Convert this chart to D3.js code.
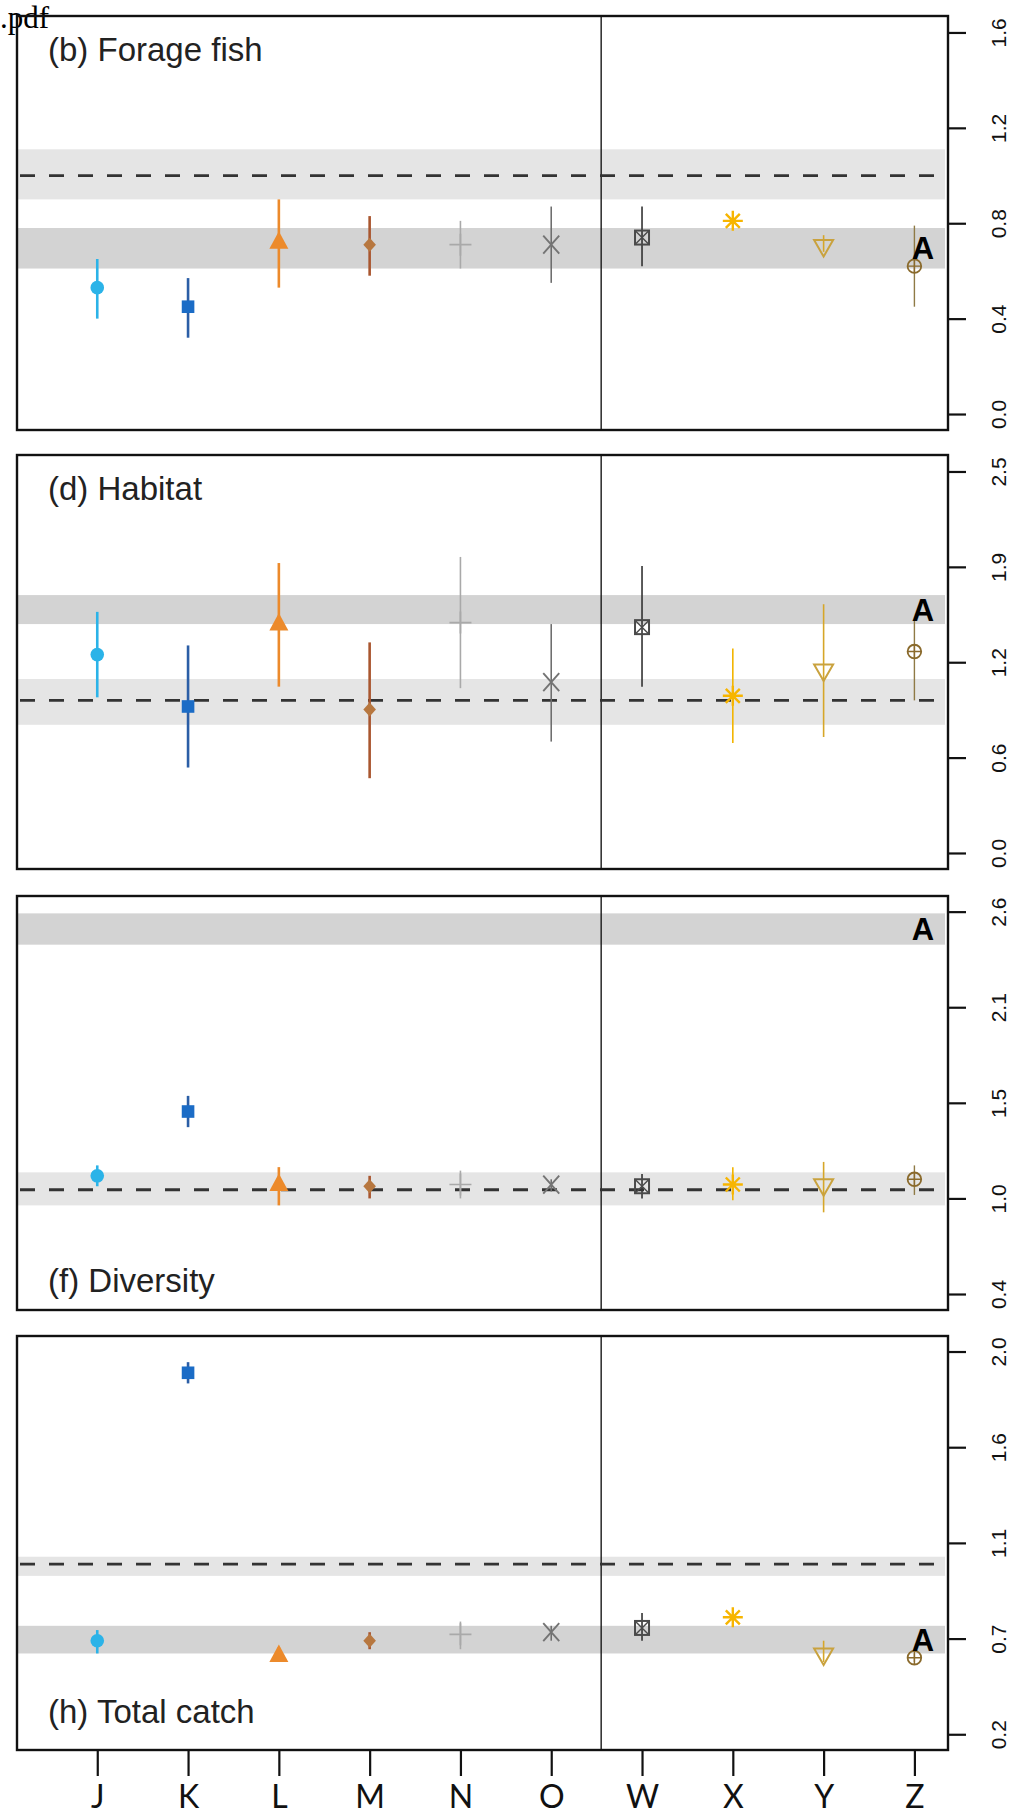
<!DOCTYPE html>
<html>
<head>
<meta charset="utf-8">
<script src="https://cdn.jsdelivr.net/npm/d3@7"></script>
<style>
  html, body { margin: 0; padding: 0; background: #fff; }
  svg { display: block; }
</style>
</head>
<body>
<svg id="chart" width="1013" height="1816"></svg>
<script>
// ---- data ---------------------------------------------------------------
const categories = ["J", "K", "L", "M", "N", "O", "W", "X", "Y", "Z"];

// (b) Forage fish
const forageMean = [0.53, 0.45, 0.72, 0.71, 0.71, 0.71, 0.74, 0.81, 0.70, 0.62];
const forageLow  = [0.40, 0.32, 0.53, 0.58, 0.61, 0.55, 0.62, 0.80, 0.68, 0.45];
const forageHigh = [0.65, 0.57, 0.90, 0.83, 0.81, 0.87, 0.87, 0.82, 0.75, 0.79];
const forageRefBand = [0.90, 1.11];
const forageBandA = [0.61, 0.78];
const forageDomain = [-0.067, 1.669];
const forageTicks = [0, 0.4, 0.8, 1.2, 1.6];
const forageTickLabels = ["0.0", "0.4", "0.8", "1.2", "1.6"];

// (d) Habitat
const habitatMean = [1.30, 0.96, 1.50, 0.94, 1.51, 1.12, 1.48, 1.03, 1.19, 1.32];
const habitatLow  = [1.02, 0.56, 1.09, 0.49, 1.08, 0.73, 1.09, 0.72, 0.76, 1.00];
const habitatHigh = [1.58, 1.36, 1.90, 1.38, 1.94, 1.50, 1.88, 1.34, 1.63, 1.52];
const habitatRefBand = [0.84, 1.14];
const habitatBandA = [1.50, 1.69];
const habitatDomain = [-0.105, 2.608];
const habitatTicks = [0, 0.625, 1.25, 1.875, 2.5];
const habitatTickLabels = ["0.0", "0.6", "1.2", "1.9", "2.5"];

// (f) Diversity
const diversityMean = [1.08, 1.45, 1.03, 1.02, 1.03, 1.03, 1.02, 1.03, 1.02, 1.06];
const diversityLow  = [1.02, 1.36, 0.91, 0.95, 0.95, 0.99, 0.95, 0.94, 0.87, 0.97];
const diversityHigh = [1.14, 1.54, 1.13, 1.08, 1.11, 1.06, 1.09, 1.13, 1.16, 1.14];
const diversityRefBand = [0.91, 1.10];
const diversityBandA = [2.41, 2.59];
const diversityDomain = [0.308, 2.690];
const diversityTicks = [0.4, 0.95, 1.5, 2.05, 2.6];
const diversityTickLabels = ["0.4", "1.0", "1.5", "2.1", "2.6"];

// (h) Total catch
const catchMean = [0.64, 1.90, 0.57, 0.64, 0.67, 0.68, 0.70, 0.75, 0.57, 0.56];
const catchLow  = [0.58, 1.85, 0.55, 0.60, 0.60, 0.64, 0.64, 0.74, 0.54, 0.54];
const catchHigh = [0.69, 1.95, 0.61, 0.68, 0.73, 0.71, 0.77, 0.76, 0.64, 0.58];
const catchRefBand = [0.945, 1.035];
const catchBandA = [0.58, 0.71];
const catchDomain = [0.126, 2.073];
const catchTicks = [0.2, 0.65, 1.1, 1.55, 2.0];
const catchTickLabels = ["0.2", "0.7", "1.1", "1.6", "2.0"];

const referenceValue = 1.0;
const groupSplit = 6.55;   // boundary between the J–O and W–Z groups

// ---- styling ------------------------------------------------------------
const markerShapes = ["circle", "square", "triangle", "diamond", "plus",
                      "cross", "boxcross", "asterisk", "triangleDown", "circlePlus"];
const markerColors = ["#2bb3e8", "#1b6cc6", "#ec8a2b", "#b7773f", "#a9a9a9",
                      "#747474", "#4a4a4a", "#f7b500", "#c9a23e", "#8a6a2c"];
const barColors    = ["#2bb3e8", "#2b5ea6", "#ec8a2b", "#a9562f", "#a9a9a9",
                      "#6e6e6e", "#333333", "#f2b400", "#d6a628", "#8f7a45"];
const barWidths    = [2.6, 2.6, 2.6, 2.6, 1.6, 1.6, 1.6, 1.6, 1.6, 1.4];

const panels = [
  { title: "(b) Forage fish", mean: forageMean, low: forageLow, high: forageHigh,
    refBand: forageRefBand, bandA: forageBandA, domain: forageDomain,
    ticks: forageTicks, tickLabels: forageTickLabels, top: 16, titleDy: 45 },
  { title: "(d) Habitat", mean: habitatMean, low: habitatLow, high: habitatHigh,
    refBand: habitatRefBand, bandA: habitatBandA, domain: habitatDomain,
    ticks: habitatTicks, tickLabels: habitatTickLabels, top: 455, titleDy: 45 },
  { title: "(f) Diversity", mean: diversityMean, low: diversityLow, high: diversityHigh,
    refBand: diversityRefBand, bandA: diversityBandA, domain: diversityDomain,
    ticks: diversityTicks, tickLabels: diversityTickLabels, top: 896, titleDy: 396 },
  { title: "(h) Total catch", mean: catchMean, low: catchLow, high: catchHigh,
    refBand: catchRefBand, bandA: catchBandA, domain: catchDomain,
    ticks: catchTicks, tickLabels: catchTickLabels, top: 1336, titleDy: 387 }
];

const plotLeft = 17, plotRight = 948, panelHeight = 414;
const svg = d3.select("#chart");

svg.append("text")
  .attr("x", 0).attr("y", 28)
  .attr("font-family", "Liberation Serif, Times New Roman, serif")
  .attr("font-size", 31).attr("fill", "#000")
  .text(".pdf");

const x = d3.scaleLinear().domain([0.116, 10.37]).range([plotLeft, plotRight]);
const sans = "Liberation Sans, Arial, Helvetica, sans-serif";

function drawMarker(g, shape, cx, cy, col) {
  const m = g.append("g").attr("transform", `translate(${cx},${cy})`);
  const stroke = (sel, w) => sel.attr("fill", "none").attr("stroke", col).attr("stroke-width", w);
  switch (shape) {
    case "circle":
      m.append("circle").attr("r", 6.8).attr("fill", col); break;
    case "square":
      m.append("rect").attr("x", -6.3).attr("y", -6.3).attr("width", 12.6).attr("height", 12.6).attr("fill", col); break;
    case "triangle":
      m.append("path").attr("d", "M0,-11L9.5,6.5L-9.5,6.5Z").attr("fill", col); break;
    case "diamond":
      m.append("path").attr("d", "M0,-7L6.3,0L0,7L-6.3,0Z").attr("fill", col); break;
    case "plus":
      stroke(m.append("path").attr("d", "M-11,0H11M0,-11V11"), 1.7); break;
    case "cross":
      stroke(m.append("path").attr("d", "M-8,-9L8,9M-8,9L8,-9"), 1.9); break;
    case "boxcross":
      stroke(m.append("rect").attr("x", -7).attr("y", -7).attr("width", 14).attr("height", 14), 2);
      stroke(m.append("path").attr("d", "M-7,-7L7,7M-7,7L7,-7"), 1.4); break;
    case "asterisk":
      stroke(m.append("path").attr("d", "M-10,0H10M0,-10V10M-7,-7L7,7M-7,7L7,-7"), 2.4); break;
    case "triangleDown":
      stroke(m.append("path").attr("d", "M-9.5,-7L9.5,-7L0,9.5Z"), 2); break;
    case "circlePlus":
      stroke(m.append("circle").attr("r", 6.8), 1.8);
      stroke(m.append("path").attr("d", "M-6.8,0H6.8M0,-6.8V6.8"), 1.4); break;
  }
}

panels.forEach((p, pi) => {
  const top = p.top, bottom = top + panelHeight;
  const y = d3.scaleLinear().domain(p.domain).range([bottom, top]);
  const g = svg.append("g").attr("class", "panel");

  const clipId = "clip" + pi;
  svg.append("clipPath").attr("id", clipId)
    .append("rect").attr("x", plotLeft).attr("y", top)
    .attr("width", plotRight - plotLeft).attr("height", panelHeight);
  const inner = g.append("g").attr("clip-path", `url(#${clipId})`);

  // reference and group bands
  inner.append("rect")
    .attr("x", plotLeft).attr("width", plotRight - plotLeft - 3)
    .attr("y", y(p.refBand[1])).attr("height", y(p.refBand[0]) - y(p.refBand[1]))
    .attr("fill", "#e5e5e5");
  inner.append("rect")
    .attr("x", plotLeft).attr("width", plotRight - plotLeft - 3)
    .attr("y", y(p.bandA[1])).attr("height", y(p.bandA[0]) - y(p.bandA[1]))
    .attr("fill", "#d3d3d3");

  // group divider
  inner.append("line")
    .attr("x1", x(groupSplit)).attr("x2", x(groupSplit))
    .attr("y1", top).attr("y2", bottom)
    .attr("stroke", "#1a1a1a").attr("stroke-width", 1.4);

  // reference line
  inner.append("line")
    .attr("x1", plotLeft + 3).attr("x2", plotRight - 3)
    .attr("y1", y(referenceValue)).attr("y2", y(referenceValue))
    .attr("stroke", "#333").attr("stroke-width", 2.8)
    .attr("stroke-dasharray", "15,14");

  // interval bars
  inner.selectAll("line.bar").data(categories).join("line")
    .attr("class", "bar")
    .attr("x1", (d, i) => x(i + 1)).attr("x2", (d, i) => x(i + 1))
    .attr("y1", (d, i) => y(p.low[i])).attr("y2", (d, i) => y(p.high[i]))
    .attr("stroke", (d, i) => barColors[i])
    .attr("stroke-width", (d, i) => barWidths[i]);

  // point estimates
  categories.forEach((c, i) => {
    drawMarker(inner, markerShapes[i], x(i + 1), y(p.mean[i]), markerColors[i]);
  });

  // group label
  inner.append("text")
    .attr("x", 923).attr("y", y((p.bandA[0] + p.bandA[1]) / 2))
    .attr("dy", "0.36em")
    .attr("text-anchor", "middle")
    .attr("font-family", sans).attr("font-weight", "bold")
    .attr("font-size", 31).attr("fill", "#000")
    .text("A");

  // panel title
  g.append("text")
    .attr("x", 48).attr("y", top + p.titleDy)
    .attr("font-family", sans).attr("font-size", 33).attr("fill", "#222")
    .text(p.title);

  // frame
  g.append("rect")
    .attr("x", plotLeft).attr("y", top)
    .attr("width", plotRight - plotLeft).attr("height", panelHeight)
    .attr("fill", "none").attr("stroke", "#111").attr("stroke-width", 2.4);

  // right axis
  const axis = d3.axisRight(y)
    .tickValues(p.ticks)
    .tickFormat((d, i) => p.tickLabels[i])
    .tickSize(18);
  const ag = g.append("g").attr("transform", `translate(${plotRight},0)`).call(axis);
  ag.select(".domain").remove();
  ag.selectAll(".tick line").attr("stroke", "#111").attr("stroke-width", 2.2);
  ag.selectAll(".tick text")
    .attr("x", 0).attr("y", 0).attr("dy", 0)
    .attr("text-anchor", "middle")
    .attr("transform", "translate(58,0) rotate(-90)")
    .attr("font-family", sans).attr("font-size", 21).attr("fill", "#111");

  // category axis under the last panel
  if (pi === panels.length - 1) {
    const xAxis = d3.axisBottom(x)
      .tickValues(categories.map((c, i) => i + 1))
      .tickFormat((d, i) => categories[i])
      .tickSize(26);
    const xg = g.append("g").attr("transform", `translate(0,${bottom})`).call(xAxis);
    xg.select(".domain").remove();
    xg.selectAll(".tick line").attr("stroke", "#111").attr("stroke-width", 2.2);
    xg.selectAll(".tick text")
      .attr("y", 58).attr("dy", 0)
      .attr("font-family", "Lato, Carlito, sans-serif").attr("font-size", 32)
      .attr("fill", "#111");
  }
});
</script>
</body>
</html>
